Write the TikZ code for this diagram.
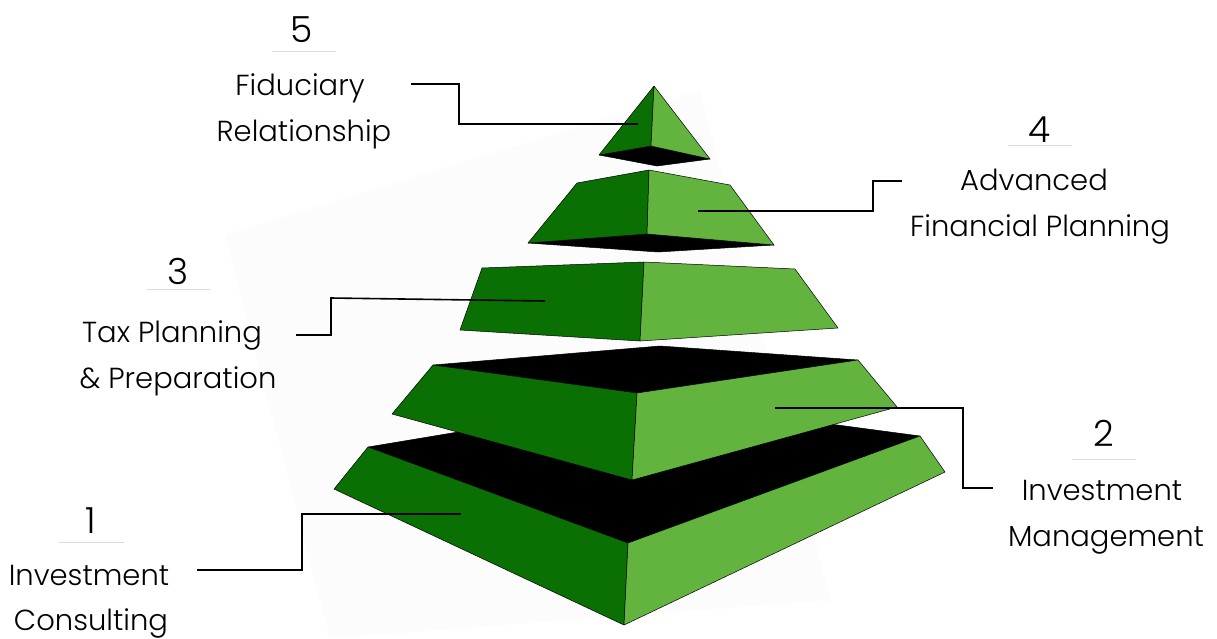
\documentclass[tikz,border=0pt]{standalone}
\usepackage{fontspec}
\setmainfont{Poppins Light}
\begin{document}
\begin{tikzpicture}[x=1pt,y=-1pt,
  dark/.style={fill=tierdark,draw=black,line width=0.5pt,line join=round},
  light/.style={fill=tierlight,draw=black,line width=0.5pt,line join=round},
  shade/.style={fill=black,draw=black,line width=0.5pt,line join=round},
  lead/.style={draw=black,line width=1.6pt},
  rule/.style={draw=rulegray,line width=0.8pt},
  num/.style={font=\fontsize{36}{40}\selectfont,anchor=base},
  lbl/.style={font=\fontsize{29}{47}\selectfont,anchor=base,text=black}]
\definecolor{tierdark}{RGB}{11,112,4}
\definecolor{tierlight}{RGB}{98,180,63}
\definecolor{rulegray}{RGB}{220,220,220}
\definecolor{haze}{RGB}{252,252,252}
\useasboundingbox (0,0) rectangle (1217,638);
\fill[white] (0,0) rectangle (1217,638);
% faint backdrop behind the pyramid
\fill[haze] (225,235) -- (700,90) -- (830,600) -- (330,638) -- cycle;

% tier 1 (base)
\draw[shade] (368,447) -- (650,400) -- (920,436) -- (628,543) -- cycle;
\draw[dark]  (368,447) -- (628,543) -- (624,625) -- (334,489) -- cycle;
\draw[light] (628,543) -- (920,436) -- (945,472) -- (624,625) -- cycle;
% tier 2
\draw[shade] (433,365) -- (660,346) -- (858,360) -- (637,393) -- cycle;
\draw[dark]  (433,365) -- (637,393) -- (632,480) -- (392,414) -- cycle;
\draw[light] (637,393) -- (858,360) -- (897,407) -- (632,480) -- cycle;
% tier 3
\draw[dark]  (482,268) -- (644,262) -- (640,341) -- (460,330) -- cycle;
\draw[light] (644,262) -- (795,269) -- (838,328) -- (640,341) -- cycle;
% tier 4
\draw[shade] (528,243) -- (647,234) -- (774,245) -- (658,252) -- cycle;
\draw[dark]  (577,183) -- (649,170) -- (647,234) -- (528,243) -- cycle;
\draw[light] (649,170) -- (730,185) -- (774,245) -- (647,234) -- cycle;
% tier 5 (apex)
\draw[shade] (599,155) -- (651,146) -- (710,159) -- (657,166) -- cycle;
\draw[dark]  (654,86) -- (651,146) -- (599,155) -- cycle;
\draw[light] (654,86) -- (710,159) -- (651,146) -- cycle;

% labels
\node[num] (n5) at (302,42) {5};
\node[lbl] (t5a) at (300,95) {Fiduciary};
\node[lbl] (t5b) at (304,141) {Relationship};
\node[num] (n4) at (1040,142) {4};
\node[lbl] (t4a) at (1034,190) {Advanced};
\node[lbl] (t4b) at (1040,236) {Financial Planning};
\node[num] (n3) at (178,284) {3};
\node[lbl] (t3a) at (172,342) {Tax Planning};
\node[lbl] (t3b) at (178,388) {\& Preparation};
\node[num] (n2) at (1104,446) {2};
\node[lbl] (t2a) at (1102,500) {Investment};
\node[lbl] (t2b) at (1106,546) {Management};
\node[num] (n1) at (91,533) {1};
\node[lbl] (t1a) at (89,585) {Investment};
\node[lbl] (t1b) at (91,630) {Consulting};

% short rules under the numbers
\coordinate (r5a) at (272,51);  \coordinate (r5b) at (336,51);
\coordinate (r4a) at (1008,145); \coordinate (r4b) at (1072,145);
\coordinate (r3a) at (146,289); \coordinate (r3b) at (210,289);
\coordinate (r2a) at (1072,459); \coordinate (r2b) at (1136,459);
\coordinate (r1a) at (58,542);  \coordinate (r1b) at (124,542);
\draw[rule] (r5a) -- (r5b);
\draw[rule] (r4a) -- (r4b);
\draw[rule] (r3a) -- (r3b);
\draw[rule] (r2a) -- (r2b);
\draw[rule] (r1a) -- (r1b);

% leader lines from labels to tiers
\coordinate (s5) at (411,84);  \coordinate (e5) at (638,124);
\coordinate (s4) at (902,181); \coordinate (e4) at (698,211);
\coordinate (s3) at (296,335); \coordinate (e3) at (545,301);
\coordinate (s2) at (993,488); \coordinate (e2) at (775,408);
\coordinate (s1) at (197,570); \coordinate (e1) at (461,514);
\draw[lead] (s5) -- (459,84) -- (459,124) -- (e5);
\draw[lead] (s4) -- (873,181) -- (873,211) -- (e4);
\draw[lead] (s3) -- (331,335) -- (331,298) -- (e3);
\draw[lead] (s2) -- (963,488) -- (963,408) -- (e2);
\draw[lead] (s1) -- (302,570) -- (302,514) -- (e1);
\end{tikzpicture}
\end{document}
